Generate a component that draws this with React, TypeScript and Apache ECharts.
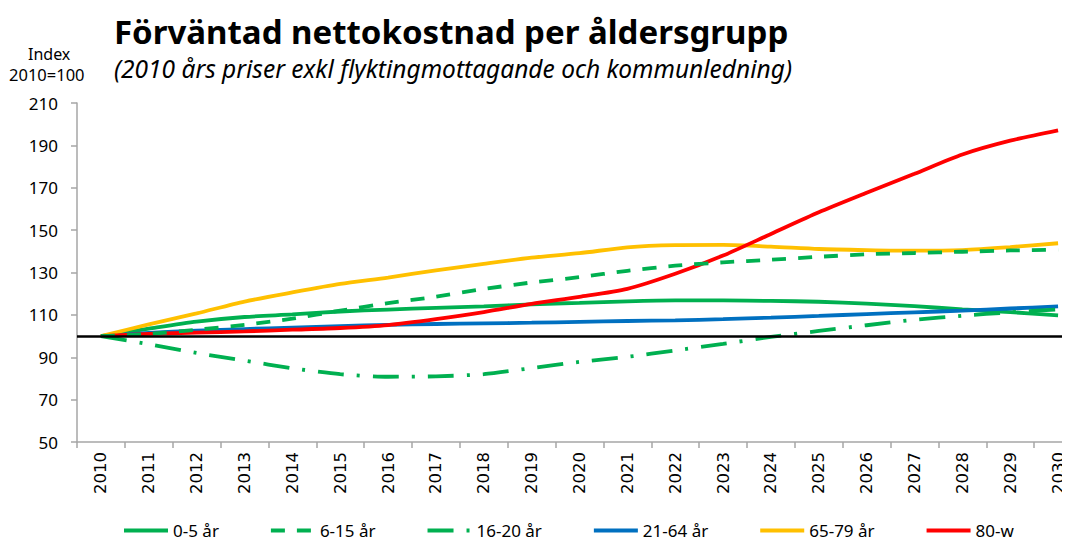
import React, { useEffect, useRef } from "react";
import * as echarts from "echarts";

const years = ["2010","2011","2012","2013","2014","2015","2016","2017","2018","2019","2020","2021","2022","2023","2024","2025","2026","2027","2028","2029","2030"];
const yTicks = [50, 70, 90, 110, 130, 150, 170, 190, 210];

const age0_5 = [100, 103.5, 106.8, 109, 110.2, 111.6, 112.5, 113.3, 114, 115, 115.7, 116.4, 116.8, 116.8, 116.6, 116.2, 115.3, 114.1, 112.6, 111.3, 109.8];
const age6_15 = [100, 101, 103, 105.3, 108.2, 112, 115.5, 118.6, 122.2, 125.3, 127.8, 130.8, 133.2, 134.8, 136, 137.4, 138.6, 139.2, 139.8, 140.4, 140.8];
const age16_20 = [100, 96.2, 92, 88.4, 84.8, 82, 80.8, 81, 82, 84.9, 87.8, 90.2, 93.2, 96.3, 99.6, 102.4, 105.1, 107.7, 109.6, 111.2, 112.6];
const age21_64 = [100, 101.5, 102.5, 103.3, 104, 104.7, 105.3, 105.7, 106, 106.3, 106.7, 107.1, 107.4, 108, 108.7, 109.5, 110.4, 111.2, 112, 113, 114];
const age65_79 = [100, 105.5, 110.7, 116.3, 120.6, 124.6, 127.6, 131, 134.1, 137, 139.1, 141.9, 142.9, 143, 142.2, 141.1, 140.6, 140.3, 140.6, 142, 143.8];
const age80 = [100, 101, 101.6, 102.2, 103, 103.8, 105.2, 108, 111.3, 115.2, 118.5, 122.3, 129.4, 138, 148.2, 158.4, 167.6, 176.6, 185.7, 192.2, 197.1];

const seriesNames = ["0-5 år", "6-15 år", "16-20 år", "21-64 år", "65-79 år", "80-w"];
const seriesData = [age0_5, age6_15, age16_20, age21_64, age65_79, age80];
const seriesColors = ["#00B050", "#00B050", "#00B050", "#0070C0", "#FFC000", "#FF0000"];
const seriesDash: any[] = ["solid", [14, 12], [26, 13, 3, 13], "solid", "solid", "solid"];

export default function App() {
  const ref = useRef<HTMLDivElement>(null);
  useEffect(() => {
    const chart = echarts.init(ref.current!, null, { renderer: "svg" });
    const font = "Noto Sans";
    chart.setOption({
      animation: false,
      title: [
        {
          text: "Förväntad nettokostnad per åldersgrupp",
          left: 106,
          top: 5,
          padding: 0,
          textStyle: { fontFamily: font, fontWeight: "bold", fontSize: 33, lineHeight: 36, color: "#000" },
        },
        {
          text: "(2010 års priser exkl flyktingmottagande och kommunledning)",
          left: 106,
          top: 48,
          padding: 0,
          textStyle: { fontFamily: font, fontStyle: "italic", fontWeight: "normal", fontSize: 24.5, color: "#000" },
        },
      ],
      graphic: [
        {
          type: "text",
          left: 20,
          top: 38,
          style: { text: "Index", fontFamily: font, fontSize: 16, fill: "#000" },
        },
        {
          type: "text",
          left: 1,
          top: 58,
          style: { text: "2010=100", fontFamily: font, fontSize: 16.5, fill: "#000" },
        },
      ],
      legend: {
        top: 514,
        left: 114,
        padding: 0,
        itemWidth: 44,
        itemHeight: 14,
        itemGap: 50,
        itemStyle: { opacity: 0 },
        lineStyle: { width: 4 },
        textStyle: { fontFamily: font, fontSize: 17, lineHeight: 16, color: "#000" },
        data: seriesNames,
      },
      grid: { left: 69, width: 1005, top: 95, bottom: 102, containLabel: false },
      xAxis: {
        type: "category",
        data: years,
        boundaryGap: true,
        axisLine: { lineStyle: { color: "#A6A6A6", width: 1.5 } },
        axisTick: { show: true, length: 6, lineStyle: { color: "#A6A6A6", width: 1.5 } },
        axisLabel: { rotate: 90, fontFamily: "DejaVu Sans", fontSize: 16.5, color: "#000", margin: 10, interval: 0 },
      },
      yAxis: {
        type: "value",
        min: yTicks[0],
        max: yTicks[yTicks.length - 1],
        interval: 20,
        axisLine: { show: true, lineStyle: { color: "#A6A6A6", width: 1.5 } },
        axisTick: { show: true, length: 6, lineStyle: { color: "#A6A6A6", width: 1.5 } },
        splitLine: { show: false },
        axisLabel: { fontFamily: font, fontSize: 17, color: "#000", margin: 19 },
      },
      series: seriesNames.map((name, i) => ({
        name,
        type: "line",
        data: seriesData[i],
        smooth: 0.25,
        symbol: "none",
        showSymbol: false,
        z: i === 1 || i === 2 ? 3 : 2,
        lineStyle: { color: seriesColors[i], width: 3.8, type: seriesDash[i], cap: "butt" },
        itemStyle: { color: seriesColors[i] },
        markLine:
          i === 0
            ? {
                silent: true,
                symbol: "none",
                label: { show: false },
                lineStyle: { color: "#000", width: 2.5, type: "solid" },
                data: [{ yAxis: 100 }],
              }
            : undefined,
      })),
    });
    return () => chart.dispose();
  }, []);
  return (
    <div style={{ width: 1062, height: 536, overflow: "hidden" }}>
      <div ref={ref} style={{ width: 1080, height: 536 }} />
    </div>
  );
}
